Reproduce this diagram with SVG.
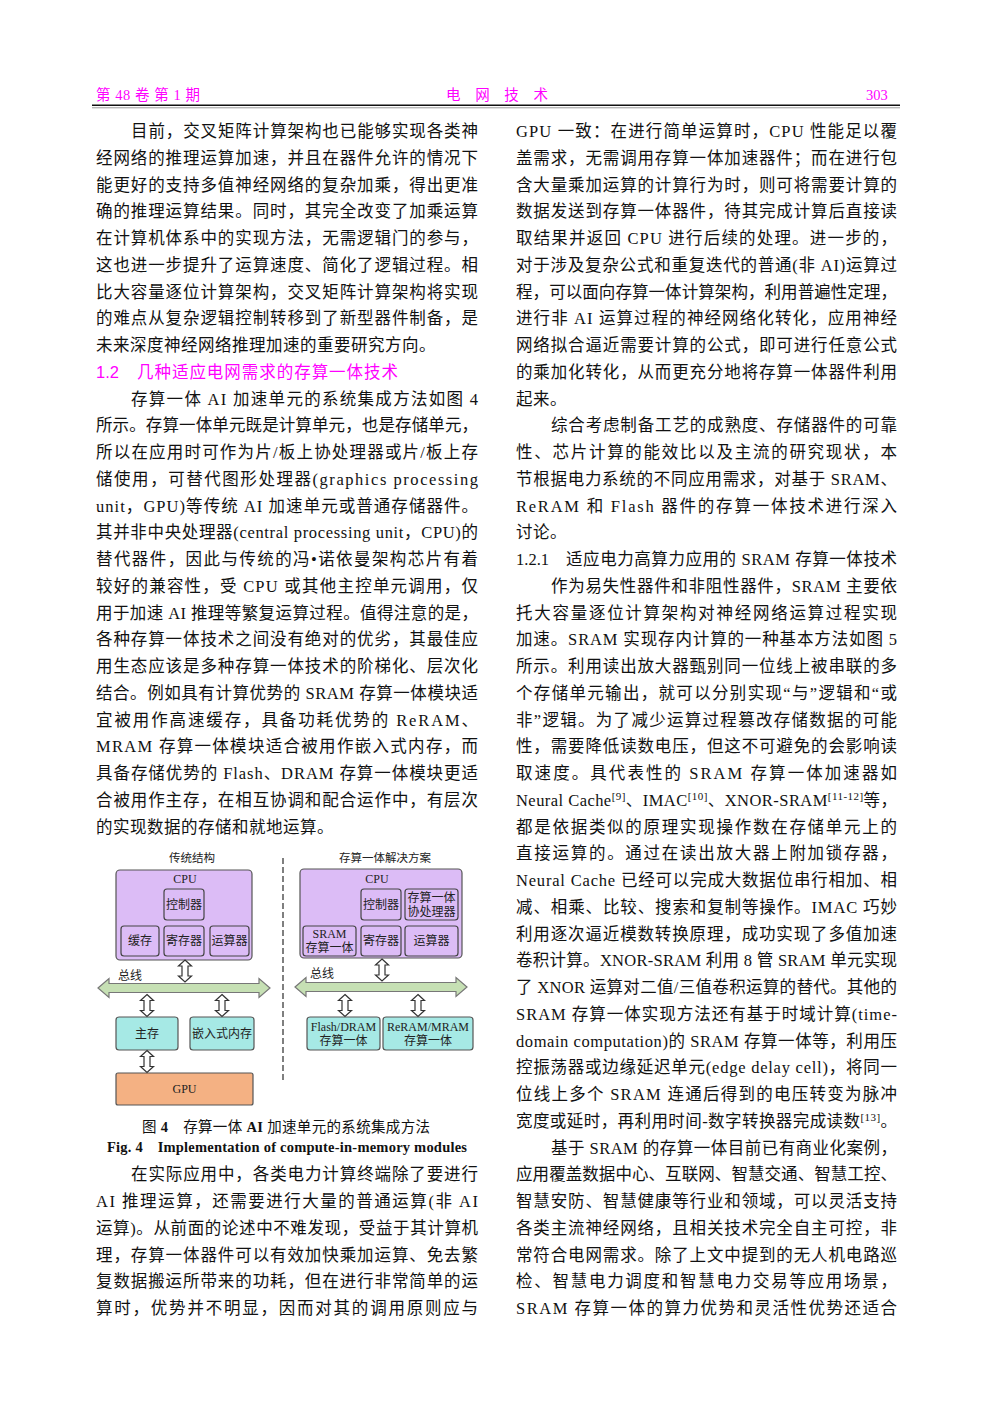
<svg xmlns="http://www.w3.org/2000/svg" width="992" height="1403" viewBox="0 0 992 1403">
<defs>
<style>
.t{font-family:"Liberation Serif","Noto Sans CJK SC",serif;font-size:16.5px;fill:#111}
.p{letter-spacing:0.5px}
.sup{font-size:11px}
.hd{font-family:"Liberation Serif","Noto Sans CJK SC",serif;font-size:14.5px;fill:#f0f}
.h2{font-family:"Liberation Sans","Noto Sans CJK SC",sans-serif;font-size:16.5px;fill:#f0f}
.f{font-family:"Liberation Serif","Noto Sans CJK SC",serif;font-size:12px;fill:#222;text-anchor:middle}
.ft{font-family:"Liberation Serif","Noto Sans CJK SC",serif;font-size:11.5px;fill:#222;text-anchor:middle}
.cap{font-family:"Liberation Serif","Noto Sans CJK SC",serif;font-size:14.5px;fill:#111}
.cpu{fill:#dcbcf6;stroke:#555;stroke-width:1.2}
.in{fill:#dcbcf6;stroke:#444;stroke-width:1.2}
.mem{fill:#a6e9e5;stroke:#555;stroke-width:1.2}
.gpu{fill:#f4b183;stroke:#555;stroke-width:1.2}
.bus{fill:#c6e0b4;stroke:#777;stroke-width:1.2}
.da{fill:#fff;stroke:#333;stroke-width:1.2}
</style>
<path id="dar" class="da" d="M0,-11 L6.5,-5 L3,-5 L3,5 L6.5,5 L0,11 L-6.5,5 L-3,5 L-3,-5 L-6.5,-5 Z"/>
</defs>
<rect width="992" height="1403" fill="#fff"/>

<g id="header">
<text class="hd" x="96" y="100" textLength="104" lengthAdjust="spacing">第 48 卷 第 1 期</text>
<text class="hd" x="446" y="100" textLength="102" lengthAdjust="spacing">电　网　技　术</text>
<text class="hd" x="866" y="100">303</text>
<line x1="92" y1="105.3" x2="900" y2="105.3" stroke="#111" stroke-width="1.6"/>
<line x1="92" y1="107.8" x2="900" y2="107.8" stroke="#555" stroke-width="0.6"/>
</g>

<g id="left-column">
<text class="t" x="131" y="137" textLength="347" lengthAdjust="spacing">目前，交叉矩阵计算架构也已能够实现各类神</text>
<text class="t" x="96" y="163.75" textLength="382" lengthAdjust="spacing">经网络的推理运算加速，并且在器件允许的情况下</text>
<text class="t" x="96" y="190.5" textLength="382" lengthAdjust="spacing">能更好的支持多值神经网络的复杂加乘，得出更准</text>
<text class="t" x="96" y="217.25" textLength="382" lengthAdjust="spacing">确的推理运算结果。同时，其完全改变了加乘运算</text>
<text class="t" x="96" y="244" textLength="382" lengthAdjust="spacing">在计算机体系中的实现方法，无需逻辑门的参与，</text>
<text class="t" x="96" y="270.75" textLength="382" lengthAdjust="spacing">这也进一步提升了运算速度、简化了逻辑过程。相</text>
<text class="t" x="96" y="297.5" textLength="382" lengthAdjust="spacing">比大容量逐位计算架构，交叉矩阵计算架构将实现</text>
<text class="t" x="96" y="324.25" textLength="382" lengthAdjust="spacing">的难点从复杂逻辑控制转移到了新型器件制备，是</text>
<text class="t p" x="96" y="351">未来深度神经网络推理加速的重要研究方向。</text>
<text class="h2" x="96" y="377.75">1.2</text>
<text class="h2" x="137" y="377.75" textLength="261" lengthAdjust="spacing">几种适应电网需求的存算一体技术</text>
<text class="t" x="131" y="404.5" textLength="347" lengthAdjust="spacing">存算一体 AI 加速单元的系统集成方法如图 4</text>
<text class="t" x="96" y="431.25" textLength="382" lengthAdjust="spacing">所示。存算一体单元既是计算单元，也是存储单元，</text>
<text class="t" x="96" y="458" textLength="382" lengthAdjust="spacing">所以在应用时可作为片/板上协处理器或片/板上存</text>
<text class="t" x="96" y="484.75" textLength="382" lengthAdjust="spacing">储使用，可替代图形处理器(graphics processing</text>
<text class="t" x="96" y="511.5" textLength="382" lengthAdjust="spacing">unit，GPU)等传统 AI 加速单元或普通存储器件。</text>
<text class="t" x="96" y="538.25" textLength="382" lengthAdjust="spacing">其并非中央处理器(central processing unit，CPU)的</text>
<text class="t" x="96" y="565" textLength="382" lengthAdjust="spacing">替代器件，因此与传统的冯•诺依曼架构芯片有着</text>
<text class="t" x="96" y="591.75" textLength="382" lengthAdjust="spacing">较好的兼容性，受 CPU 或其他主控单元调用，仅</text>
<text class="t" x="96" y="618.5" textLength="382" lengthAdjust="spacing">用于加速 AI 推理等繁复运算过程。值得注意的是，</text>
<text class="t" x="96" y="645.25" textLength="382" lengthAdjust="spacing">各种存算一体技术之间没有绝对的优劣，其最佳应</text>
<text class="t" x="96" y="672" textLength="382" lengthAdjust="spacing">用生态应该是多种存算一体技术的阶梯化、层次化</text>
<text class="t" x="96" y="698.75" textLength="382" lengthAdjust="spacing">结合。例如具有计算优势的 SRAM 存算一体模块适</text>
<text class="t" x="96" y="725.5" textLength="382" lengthAdjust="spacing">宜被用作高速缓存，具备功耗优势的 ReRAM、</text>
<text class="t" x="96" y="752.25" textLength="382" lengthAdjust="spacing">MRAM 存算一体模块适合被用作嵌入式内存，而</text>
<text class="t" x="96" y="779" textLength="382" lengthAdjust="spacing">具备存储优势的 Flash、DRAM 存算一体模块更适</text>
<text class="t" x="96" y="805.75" textLength="382" lengthAdjust="spacing">合被用作主存，在相互协调和配合运作中，有层次</text>
<text class="t p" x="96" y="832.5">的实现数据的存储和就地运算。</text>
<text class="t" x="131" y="1180.25" textLength="347" lengthAdjust="spacing">在实际应用中，各类电力计算终端除了要进行</text>
<text class="t" x="96" y="1207" textLength="382" lengthAdjust="spacing">AI 推理运算，还需要进行大量的普通运算(非 AI</text>
<text class="t" x="96" y="1233.75" textLength="382" lengthAdjust="spacing">运算)。从前面的论述中不难发现，受益于其计算机</text>
<text class="t" x="96" y="1260.5" textLength="382" lengthAdjust="spacing">理，存算一体器件可以有效加快乘加运算、免去繁</text>
<text class="t" x="96" y="1287.25" textLength="382" lengthAdjust="spacing">复数据搬运所带来的功耗，但在进行非常简单的运</text>
<text class="t" x="96" y="1314" textLength="382" lengthAdjust="spacing">算时，优势并不明显，因而对其的调用原则应与</text>
</g>

<g id="right-column">
<text class="t" x="516" y="137" textLength="381" lengthAdjust="spacing">GPU 一致：在进行简单运算时，CPU 性能足以覆</text>
<text class="t" x="516" y="163.75" textLength="381" lengthAdjust="spacing">盖需求，无需调用存算一体加速器件；而在进行包</text>
<text class="t" x="516" y="190.5" textLength="381" lengthAdjust="spacing">含大量乘加运算的计算行为时，则可将需要计算的</text>
<text class="t" x="516" y="217.25" textLength="381" lengthAdjust="spacing">数据发送到存算一体器件，待其完成计算后直接读</text>
<text class="t" x="516" y="244" textLength="381" lengthAdjust="spacing">取结果并返回 CPU 进行后续的处理。进一步的，</text>
<text class="t" x="516" y="270.75" textLength="381" lengthAdjust="spacing">对于涉及复杂公式和重复迭代的普通(非 AI)运算过</text>
<text class="t" x="516" y="297.5" textLength="381" lengthAdjust="spacing">程，可以面向存算一体计算架构，利用普遍性定理，</text>
<text class="t" x="516" y="324.25" textLength="381" lengthAdjust="spacing">进行非 AI 运算过程的神经网络化转化，应用神经</text>
<text class="t" x="516" y="351" textLength="381" lengthAdjust="spacing">网络拟合逼近需要计算的公式，即可进行任意公式</text>
<text class="t" x="516" y="377.75" textLength="381" lengthAdjust="spacing">的乘加化转化，从而更充分地将存算一体器件利用</text>
<text class="t p" x="516" y="404.5">起来。</text>
<text class="t" x="551" y="431.25" textLength="346" lengthAdjust="spacing">综合考虑制备工艺的成熟度、存储器件的可靠</text>
<text class="t" x="516" y="458" textLength="381" lengthAdjust="spacing">性、芯片计算的能效比以及主流的研究现状，本</text>
<text class="t" x="516" y="484.75" textLength="381" lengthAdjust="spacing">节根据电力系统的不同应用需求，对基于 SRAM、</text>
<text class="t" x="516" y="511.5" textLength="381" lengthAdjust="spacing">ReRAM 和 Flash 器件的存算一体技术进行深入</text>
<text class="t p" x="516" y="538.25">讨论。</text>
<text class="t" x="516" y="565">1.2.1</text>
<text class="t" x="566" y="565" textLength="331" lengthAdjust="spacing">适应电力高算力应用的 SRAM 存算一体技术</text>
<text class="t" x="551" y="591.75" textLength="346" lengthAdjust="spacing">作为易失性器件和非阻性器件，SRAM 主要依</text>
<text class="t" x="516" y="618.5" textLength="381" lengthAdjust="spacing">托大容量逐位计算架构对神经网络运算过程实现</text>
<text class="t" x="516" y="645.25" textLength="381" lengthAdjust="spacing">加速。SRAM 实现存内计算的一种基本方法如图 5</text>
<text class="t" x="516" y="672" textLength="381" lengthAdjust="spacing">所示。利用读出放大器甄别同一位线上被串联的多</text>
<text class="t" x="516" y="698.75" textLength="381" lengthAdjust="spacing">个存储单元输出，就可以分别实现“与”逻辑和“或</text>
<text class="t" x="516" y="725.5" textLength="381" lengthAdjust="spacing">非”逻辑。为了减少运算过程篡改存储数据的可能</text>
<text class="t" x="516" y="752.25" textLength="381" lengthAdjust="spacing">性，需要降低读数电压，但这不可避免的会影响读</text>
<text class="t" x="516" y="779" textLength="381" lengthAdjust="spacing">取速度。具代表性的 SRAM 存算一体加速器如</text>
<text class="t" x="516" y="805.75" textLength="381" lengthAdjust="spacing">Neural Cache<tspan class="sup" baseline-shift="super">[9]</tspan>、IMAC<tspan class="sup" baseline-shift="super">[10]</tspan>、XNOR-SRAM<tspan class="sup" baseline-shift="super">[11-12]</tspan>等，</text>
<text class="t" x="516" y="832.5" textLength="381" lengthAdjust="spacing">都是依据类似的原理实现操作数在存储单元上的</text>
<text class="t" x="516" y="859.25" textLength="381" lengthAdjust="spacing">直接运算的。通过在读出放大器上附加锁存器，</text>
<text class="t" x="516" y="886" textLength="381" lengthAdjust="spacing">Neural Cache 已经可以完成大数据位串行相加、相</text>
<text class="t" x="516" y="912.75" textLength="381" lengthAdjust="spacing">减、相乘、比较、搜索和复制等操作。IMAC 巧妙</text>
<text class="t" x="516" y="939.5" textLength="381" lengthAdjust="spacing">利用逐次逼近模数转换原理，成功实现了多值加速</text>
<text class="t" x="516" y="966.25" textLength="381" lengthAdjust="spacing">卷积计算。XNOR-SRAM 利用 8 管 SRAM 单元实现</text>
<text class="t" x="516" y="993" textLength="381" lengthAdjust="spacing">了 XNOR 运算对二值/三值卷积运算的替代。其他的</text>
<text class="t" x="516" y="1019.75" textLength="381" lengthAdjust="spacing">SRAM 存算一体实现方法还有基于时域计算(time-</text>
<text class="t" x="516" y="1046.5" textLength="381" lengthAdjust="spacing">domain computation)的 SRAM 存算一体等，利用压</text>
<text class="t" x="516" y="1073.25" textLength="381" lengthAdjust="spacing">控振荡器或边缘延迟单元(edge delay cell)，将同一</text>
<text class="t" x="516" y="1100" textLength="381" lengthAdjust="spacing">位线上多个 SRAM 连通后得到的电压转变为脉冲</text>
<text class="t" x="516" y="1126.75" textLength="381" lengthAdjust="spacing">宽度或延时，再利用时间-数字转换器完成读数<tspan class="sup" baseline-shift="super">[13]</tspan>。</text>
<text class="t" x="551" y="1153.5" textLength="346" lengthAdjust="spacing">基于 SRAM 的存算一体目前已有商业化案例，</text>
<text class="t" x="516" y="1180.25" textLength="381" lengthAdjust="spacing">应用覆盖数据中心、互联网、智慧交通、智慧工控、</text>
<text class="t" x="516" y="1207" textLength="381" lengthAdjust="spacing">智慧安防、智慧健康等行业和领域，可以灵活支持</text>
<text class="t" x="516" y="1233.75" textLength="381" lengthAdjust="spacing">各类主流神经网络，且相关技术完全自主可控，非</text>
<text class="t" x="516" y="1260.5" textLength="381" lengthAdjust="spacing">常符合电网需求。除了上文中提到的无人机电路巡</text>
<text class="t" x="516" y="1287.25" textLength="381" lengthAdjust="spacing">检、智慧电力调度和智慧电力交易等应用场景，</text>
<text class="t" x="516" y="1314" textLength="381" lengthAdjust="spacing">SRAM 存算一体的算力优势和灵活性优势还适合</text>
</g>

<g id="figure4">
<text class="ft" x="192" y="862">传统结构</text>
<text class="ft" x="385" y="862">存算一体解决方案</text>
<line x1="283" y1="858" x2="283" y2="1083" stroke="#555" stroke-width="1.5" stroke-dasharray="6,3"/>

<g id="L-cpu"><rect class="cpu" x="116" y="870" width="136" height="90" rx="4"/><text class="f" x="185" y="883">CPU</text></g>
<g id="L-ctrl"><rect class="in" x="164" y="889" width="40" height="31" rx="3"/><text class="f" x="184" y="909">控制器</text></g>
<g id="L-cache"><rect class="in" x="121" y="926" width="38" height="30" rx="3"/><text class="f" x="140" y="945">缓存</text></g>
<g id="L-reg"><rect class="in" x="164" y="926" width="40" height="30" rx="3"/><text class="f" x="184" y="945">寄存器</text></g>
<g id="L-alu"><rect class="in" x="210" y="926" width="39" height="30" rx="3"/><text class="f" x="229.5" y="945">运算器</text></g>
<g id="L-bus"><path class="bus" d="M98,988 L109,978.5 L109,983.5 L259,983.5 L259,978.5 L270,988 L259,997.5 L259,992.5 L109,992.5 L109,997.5 Z"/><text class="f" x="130" y="980">总线</text></g>
<g id="L-main"><rect class="mem" x="116" y="1017" width="62" height="33" rx="3"/><text class="f" x="147" y="1038">主存</text></g>
<g id="L-emb"><rect class="mem" x="190" y="1017" width="64" height="33" rx="3"/><text class="f" x="222" y="1038">嵌入式内存</text></g>
<g id="L-gpu"><rect class="gpu" x="116" y="1073" width="137" height="32" rx="2"/><text class="f" x="184.5" y="1093">GPU</text></g>

<g id="R-cpu"><rect class="cpu" x="300" y="869" width="162" height="89" rx="4"/><text class="f" x="377" y="883">CPU</text></g>
<g id="R-ctrl"><rect class="in" x="361" y="889" width="40" height="31" rx="3"/><text class="f" x="381" y="909">控制器</text></g>
<g id="R-cop"><rect class="in" x="405" y="889" width="53" height="31" rx="3"/><text class="f" x="431.5" y="902">存算一体</text><text class="f" x="431.5" y="916">协处理器</text></g>
<g id="R-sram"><rect class="in" x="303" y="926" width="53" height="30" rx="3"/><text class="f" x="329.5" y="938">SRAM</text><text class="f" x="329.5" y="952">存算一体</text></g>
<g id="R-reg"><rect class="in" x="361" y="926" width="40" height="30" rx="3"/><text class="f" x="381" y="945">寄存器</text></g>
<g id="R-alu"><rect class="in" x="405" y="926" width="53" height="30" rx="3"/><text class="f" x="431.5" y="945">运算器</text></g>
<g id="R-bus"><path class="bus" d="M295,987 L306,977.5 L306,982.5 L456,982.5 L456,977.5 L467,987 L456,996.5 L456,991.5 L306,991.5 L306,996.5 Z"/><text class="f" x="322" y="978">总线</text></g>
<g id="R-flash"><rect class="mem" x="307" y="1017" width="73" height="33" rx="3"/><text class="f" x="343.5" y="1031">Flash/DRAM</text><text class="f" x="343.5" y="1045">存算一体</text></g>
<g id="R-reram"><rect class="mem" x="383" y="1017" width="90" height="33" rx="3"/><text class="f" x="428" y="1031">ReRAM/MRAM</text><text class="f" x="428" y="1045">存算一体</text></g>

<g id="connectors">
<use href="#dar" x="185" y="971"/>
<use href="#dar" x="147" y="1005.5"/>
<use href="#dar" x="222" y="1005.5"/>
<use href="#dar" x="147" y="1061.5"/>
<use href="#dar" x="382" y="970"/>
<use href="#dar" x="345" y="1005.5"/>
<use href="#dar" x="418" y="1005.5"/>
</g>

<text class="cap" x="142" y="1132" textLength="288" lengthAdjust="spacing">图 <tspan font-weight="bold">4</tspan>　存算一体 <tspan font-weight="bold">AI</tspan> 加速单元的系统集成方法</text>
<text class="cap" x="107" y="1152" font-weight="bold" textLength="360" lengthAdjust="spacing">Fig. 4　Implementation of compute-in-memory modules</text>
</g>
</svg>
